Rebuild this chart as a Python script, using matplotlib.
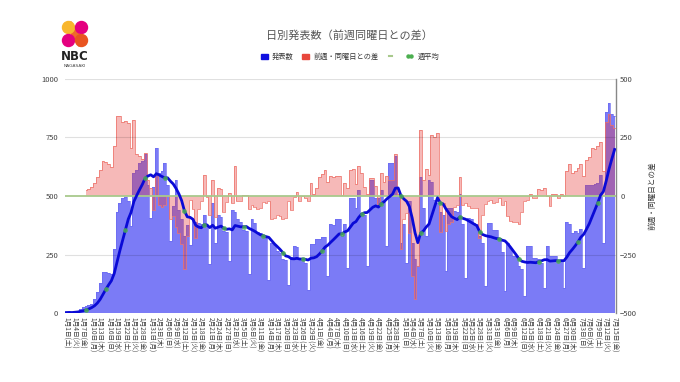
import matplotlib
matplotlib.use("Agg")
import matplotlib.pyplot as plt
import matplotlib.patches as mpatches
from matplotlib.lines import Line2D
import numpy as np
import pandas as pd

plt.rcParams["font.family"] = ["Noto Sans CJK JP", "DejaVu Sans"]

# ── データ（2022年1月1日〜7月15日 日別発表数）──────────────────────────
START = "2022-01-01"
counts = [
    2, 3, 1, 6, 10, 18, 25,
    28, 35, 40, 60, 90, 130, 175,
    175, 170, 165, 275, 430, 470, 490,
    495, 480, 370, 600, 610, 640, 650,
    680, 548, 406, 540, 704, 600, 605,
    640, 548, 307, 456, 570, 440, 400,
    330, 375, 290, 400, 390, 385, 380,
    420, 370, 210, 470, 300, 420, 410,
    350, 345, 222, 440, 430, 400, 390,
    355, 350, 165, 400, 385, 345, 340,
    330, 320, 143, 300, 290, 265, 255,
    230, 225, 120, 240, 285, 280, 235,
    230, 215, 100, 295, 295, 315, 315,
    325, 325, 160, 380, 375, 400, 400,
    330, 380, 193, 491, 491, 450, 527,
    427, 420, 200, 570, 570, 491, 491,
    527, 480, 285, 640, 640, 669, 500,
    300, 380, 214, 480, 300, 230, 200,
    583, 450, 330, 570, 560, 484, 470,
    430, 420, 179, 450, 450, 435, 430,
    510, 380, 150, 406, 400, 385, 380,
    330, 300, 115, 385, 385, 356, 356,
    321, 260, 94, 300, 278, 243, 243,
    200, 190, 72, 285, 285, 236, 236,
    230, 215, 108, 285, 243, 243, 243,
    222, 222, 108, 390, 380, 340, 350,
    340, 360, 193, 545, 545, 545, 550,
    555, 591, 300, 860, 896, 850, 840,
]
WEEKDAYS = ["月", "火", "水", "木", "金", "土", "日"]

dates = pd.date_range(START, periods=len(counts))
tick_idx = list(range(0, len(counts), 3))
tick_labels = [f"{dates[i].month}月{dates[i].day}日({WEEKDAYS[dates[i].weekday()]})"
               for i in tick_idx]

s = pd.Series(counts, dtype=float)
diff = (s - s.shift(7)).to_numpy()          # 前週同曜日との差
avg = s.rolling(7, min_periods=1).mean().to_numpy()   # 週平均
x = np.arange(len(counts))
OFFSET = 500   # 右軸 0 = 左軸 500

# ── 色 ────────────────────────────────────────────────────────────────
C_AREA = "#7b7bf6"
C_RED = (0.90, 0.22, 0.21, 0.35)
C_RED_EDGE = (0.93, 0.45, 0.42, 0.9)
C_LINE = "#0a0ad6"
C_DOT = "#4caf50"
C_ZERO = "#a8c98c"

fig = plt.figure(figsize=(6.8, 3.82), dpi=100)
ax = fig.add_axes([65 / 680, 69 / 382, 551 / 680, 234 / 382])

# 発表数（階段面）
ax.fill_between(x, 0, s, step="mid", color=C_AREA, lw=0, zorder=2)
ax.step(x, s, where="mid", color="#6a6af2", lw=0.5, zorder=2)

# 前週同曜日との差（右軸）
m = ~np.isnan(diff)
ax.fill_between(x[m], OFFSET, diff[m] + OFFSET, step="mid", facecolor=C_RED, lw=0, zorder=3)
ax.step(x[m], diff[m] + OFFSET, where="mid", color=C_RED_EDGE, lw=0.6, zorder=3)

# グリッド・ゼロ線
for v in [250, 750, 1000]:
    ax.axhline(v, color="k", alpha=0.12, lw=0.8, zorder=4)
ax.axhline(OFFSET, color=C_ZERO, lw=1.3, zorder=4)

# 週平均
ax.plot(x, avg, color=C_LINE, lw=2, zorder=5)
dot_idx = np.arange(7, len(counts), 7)
ax.plot(dot_idx, avg[dot_idx], "o", color=C_DOT, ms=3.4, alpha=0.85, mec="none", zorder=6)

ax.set_xlim(-0.5, len(counts) - 0.5)
ax.set_ylim(0, 1000)
ax.set_yticks([0, 250, 500, 750, 1000])
ax.tick_params(axis="y", length=0, labelsize=5.5, labelcolor="#444", pad=5)
ax.set_xticks(tick_idx)
ax.set_xticklabels(tick_labels, rotation=-90, fontsize=4.8, color="#444", va="top")
ax.tick_params(axis="x", length=0, pad=3)
for sp in ["top", "left", "bottom", "right"]:
    ax.spines[sp].set_visible(False)

sec = ax.secondary_yaxis("right", functions=(lambda v: v - OFFSET, lambda v: v + OFFSET))
sec.set_yticks([-500, -250, 0, 250, 500])
sec.tick_params(length=0, labelsize=5.5, labelcolor="#444", pad=3)
sec.spines["right"].set_color("#888888")
sec.spines["right"].set_linewidth(1.0)
sec.set_ylabel("前週・同曜日との差", fontsize=5.5, color="#333", rotation=90, labelpad=8)

# タイトル
fig.text(349 / 680, 1 - 35 / 382, "日別発表数（前週同曜日との差）",
         ha="center", va="center", fontsize=8, color="#555555")

# 凡例
handles = [
    mpatches.Patch(color="#1010e0"),
    mpatches.Patch(color="#e8473c"),
    Line2D([], [], color=C_ZERO, lw=1.5),
    Line2D([], [], color=C_DOT, ls="none", marker="o", ms=2.2),
]
fig.legend(handles, ["発表数", "前週・同曜日との差", "", "週平均"],
           loc="center", bbox_to_anchor=(350 / 680, 1 - 57 / 382), ncol=4,
           frameon=False, fontsize=5.2, handlelength=1.0, handleheight=0.8,
           columnspacing=1.1, handletextpad=0.6, labelcolor="#333", numpoints=2)

# ロゴ
lax = fig.add_axes([55 / 680, 1 - 72 / 382, 40 / 680, 54 / 382])
lax.set_xlim(55, 95)
lax.set_ylim(72, 18)
lax.axis("off")
lax.add_patch(mpatches.Polygon([(65, 24), (71, 22), (85, 43), (79, 46)], color="#ee6a2a"))
lax.add_patch(mpatches.Circle((68.5, 27.5), 6.0, color="#f8b62d"))
lax.add_patch(mpatches.Circle((81.5, 27.5), 6.0, color="#e4007f"))
lax.add_patch(mpatches.Circle((68.5, 40.5), 6.0, color="#e4007f"))
lax.add_patch(mpatches.Circle((81.5, 40.5), 6.0, color="#e95420"))
lax.text(75, 57, "NBC", ha="center", va="center", fontsize=8.5, color="#222",
         family="DejaVu Sans", fontweight="bold")
lax.text(75, 66, "NAGASAKI", ha="center", va="center", fontsize=3.2, color="#444", family="DejaVu Sans")

fig.savefig("out.png", dpi=100, facecolor="white")
